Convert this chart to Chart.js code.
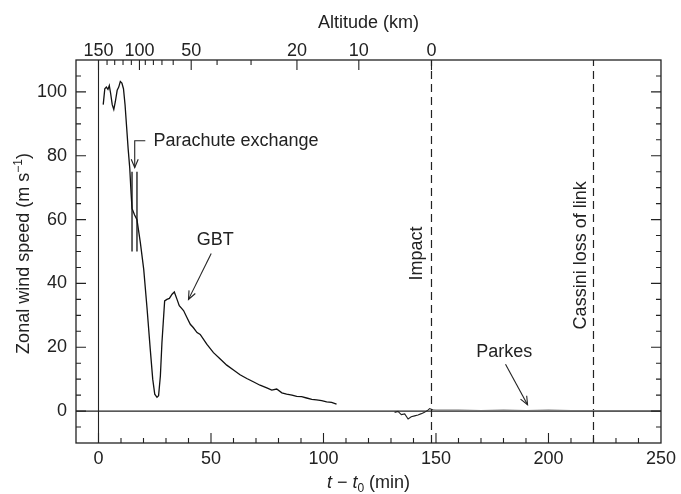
<!DOCTYPE html>
<html><head><meta charset="utf-8">
<script src="https://cdn.jsdelivr.net/npm/chart.js@4.4.1/dist/chart.umd.min.js"></script>
<style>html,body{margin:0;padding:0;background:#fff}#wrap{width:681px;height:494px;position:relative}</style>
</head><body><div id="wrap"><canvas id="c"></canvas></div>
<script>
// ---- data ----
const gbtTime  = [2.1,2.8,3.5,4.2,4.8,5.4,6.1,6.8,7.5,8.3,9.0,9.7,10.4,11.1,11.8,12.5,13.2,13.9,14.5,14.9,16.0,17.1,18.6,20.1,21.6,23.0,24.1,25.0,26.0,26.7,27.5,28.2,29.4,30.4,31.5,32.7,33.7,34.9,35.9,37.8,39.3,40.8,42.2,43.8,45.2,48.2,51.1,54.1,57.0,60.0,62.9,65.9,68.8,71.8,74.8,77.0,79.2,81.5,83.6,86.0,88.1,90.3,92.5,94.8,96.9,99.2,101.4,103.6,105.8];
const gbtSpeed = [96,101,101.5,100.8,102,99.5,96,94.5,97,100.5,101.5,103.3,102.8,101,96,89,82,76,68,63.5,61.5,60,52.8,44.4,32,19.4,10,5.3,4.3,4.8,11,21.5,34.5,35,35.3,36.6,37.3,35,33,31.5,29.3,27.2,26.1,24.6,24,20.9,18.3,16.3,14.4,12.9,11.4,10.2,9.2,8.1,7.3,6.6,6.9,5.7,5.3,5.0,4.6,4.5,4.1,3.7,3.5,3.3,2.9,2.7,2.2];
const parkesTime  = [131.6,133.1,134.6,136.1,137.6,139.0,140.5,142.0,143.5,144.9,146.4,147.2,147.9,148.6,150,160,170,180,190,200,210,220,230,240,250];
const parkesSpeed = [-0.4,-0.1,-1.1,-0.9,-2.5,-1.8,-1.5,-1.2,-0.8,-0.4,0.3,0.8,0.6,0.4,0.3,0.3,0.2,0.3,0.2,0.3,0.2,0.2,0.2,0.2,0.2];
const xTicks = [0,50,100,150,200,250];
const yTicks = [0,20,40,60,80,100];
const altitudeValues = [150,140,130,120,110,100,90,80,70,60,50,40,30,20,10,0];
const altitudeTimes  = [0,3.8,7.2,10.9,14.6,18.2,20.8,24.4,28.2,33.2,41.2,52.7,67.8,88.2,115.7,148];
const altitudeLabelled = [150,100,50,20,10,0];
const impactTime = 148;
const cassiniTime = 220;
const parachuteTimes = [14.9,17.1];
const parachuteRange = [50,75];
const xRange = [-10,250];
const yRange = [-10,110];

// ---- build ----
const xy = (xs, ys) => xs.map((x,i)=>({x, y: ys[i]}));
const vline = (t) => [{x:t,y:yRange[0]},{x:t,y:yRange[1]}];
const FONT = "'Liberation Sans', Arial, Helvetica, sans-serif";
const INK = '#222';

const datasets = [
  {data: xy(gbtTime,gbtSpeed), borderColor:'#111', borderWidth:1.3},
  {data: xy(parkesTime,parkesSpeed), borderColor:'#222', borderWidth:1.1,
   segment:{borderColor: c => c.p0.parsed.x >= impactTime ? '#777' : '#222'}},
  {data: [{x:xRange[0],y:0},{x:xRange[1],y:0}], borderColor:INK, borderWidth:1.1},
  {data: vline(0), borderColor:INK, borderWidth:1.1},
  {data: vline(impactTime), borderColor:INK, borderWidth:1.2, borderDash:[8,5]},
  {data: vline(cassiniTime), borderColor:INK, borderWidth:1.2, borderDash:[8,5]},
  ...parachuteTimes.map(t=>({data:[{x:t,y:parachuteRange[0]},{x:t,y:parachuteRange[1]}], borderColor:'#111', borderWidth:1.3}))
].map(d=>Object.assign({pointRadius:0, tension:0, fill:false, xAxisID:'x', yAxisID:'y'}, d));

const annotations = {
  parachuteText: {t:24.4, v:84.7, text:'Parachute exchange'},
  parachuteArrow: [[20.8,84.7],[16.1,84.7],[16.1,76.3]],
  gbtText: {t:51.9, v:53.7, text:'GBT'},
  gbtArrow: [[50.1,49.4],[40.0,35.0]],
  impactText: {t:144.0, v:40.9, text:'Impact'},
  cassiniText: {t:216.6, v:25.6, text:'Cassini loss of link'},
  parkesText: {t:180.3, v:18.4, text:'Parkes'},
  parkesArrow: [[180.9,14.7],[190.7,2.0]]
};

function arrow(ctx, pts){
  ctx.beginPath();
  ctx.moveTo(pts[0][0],pts[0][1]);
  for(let i=1;i<pts.length;i++) ctx.lineTo(pts[i][0],pts[i][1]);
  ctx.stroke();
  const [x1,y1]=pts[pts.length-2], [x2,y2]=pts[pts.length-1];
  const ang=Math.atan2(y2-y1,x2-x1), L=9, h=0.4;
  ctx.beginPath();
  ctx.moveTo(x2-L*Math.cos(ang-h), y2-L*Math.sin(ang-h));
  ctx.lineTo(x2,y2);
  ctx.lineTo(x2-L*Math.cos(ang+h), y2-L*Math.sin(ang+h));
  ctx.stroke();
}

const decor = {
  id:'decor',
  afterDatasetsDraw(chart){
    const ctx=chart.ctx, a=chart.chartArea, xs=chart.scales.x, ys=chart.scales.y;
    const P=(t,v)=>[xs.getPixelForValue(t), ys.getPixelForValue(v)];
    ctx.save();
    ctx.strokeStyle=INK; ctx.lineWidth=1.3;
    ctx.strokeRect(a.left,a.top,a.right-a.left,a.bottom-a.top);
    ctx.beginPath();
    ctx.lineWidth=1.1;
    for(let v=-5; v<=105; v+=5){
      const p=ys.getPixelForValue(v), L=(v%20===0)?10:5;
      ctx.moveTo(a.left,p); ctx.lineTo(a.left+L,p);
      ctx.moveTo(a.right,p); ctx.lineTo(a.right-L,p);
    }
    for(let v=0; v<250; v+=10){
      const p=xs.getPixelForValue(v), L=(v%50===0)?10:5;
      ctx.moveTo(p,a.bottom); ctx.lineTo(p,a.bottom-L);
    }
    altitudeTimes.forEach((t,i)=>{
      const p=xs.getPixelForValue(t), L=altitudeLabelled.includes(altitudeValues[i])?10:5;
      ctx.moveTo(p,a.top); ctx.lineTo(p,a.top+L);
    });
    ctx.stroke();

    ctx.fillStyle=INK;
    ctx.font='18px '+FONT;
    ctx.textAlign='center'; ctx.textBaseline='alphabetic';
    ctx.fillText('Altitude (km)', (a.left+a.right)/2, 28);
    {
      const parts=[['italic 18px '+FONT,'t',0],['18px '+FONT,' \u2212 ',0],['italic 18px '+FONT,'t',0],['12px '+FONT,'0',4],['18px '+FONT,' (min)',0]];
      let w=0; parts.forEach(p=>{ctx.font=p[0]; w+=ctx.measureText(p[1]).width;});
      let x=(a.left+a.right)/2-w/2; const y=488;
      ctx.textAlign='left';
      parts.forEach(p=>{ctx.font=p[0]; ctx.fillText(p[1],x,y+p[2]); x+=ctx.measureText(p[1]).width;});
    }
    {
      ctx.save();
      ctx.translate(29,(a.top+a.bottom)/2+2);
      ctx.rotate(-Math.PI/2);
      const parts=[['18px '+FONT,'Zonal wind speed (m s',0],['12px '+FONT,'\u22121',-7],['18px '+FONT,')',0]];
      let w=0; parts.forEach(p=>{ctx.font=p[0]; w+=ctx.measureText(p[1]).width;});
      let x=-w/2; ctx.textAlign='left';
      parts.forEach(p=>{ctx.font=p[0]; ctx.fillText(p[1],x,p[2]); x+=ctx.measureText(p[1]).width;});
      ctx.restore();
    }
    ctx.font='18px '+FONT;
    ctx.textBaseline='middle'; ctx.textAlign='left';
    let q=P(annotations.parachuteText.t, annotations.parachuteText.v);
    ctx.fillText(annotations.parachuteText.text, q[0], q[1]);
    ctx.textAlign='center';
    q=P(annotations.gbtText.t, annotations.gbtText.v);
    ctx.fillText(annotations.gbtText.text, q[0], q[1]);
    q=P(annotations.parkesText.t, annotations.parkesText.v);
    ctx.fillText(annotations.parkesText.text, q[0], q[1]);
    ctx.lineWidth=1.1; ctx.strokeStyle=INK;
    arrow(ctx, annotations.parachuteArrow.map(p=>P(p[0],p[1])));
    arrow(ctx, annotations.gbtArrow.map(p=>P(p[0],p[1])));
    arrow(ctx, annotations.parkesArrow.map(p=>P(p[0],p[1])));
    [annotations.impactText, annotations.cassiniText].forEach(o=>{
      const r=P(o.t,o.v);
      ctx.save(); ctx.translate(r[0],r[1]); ctx.rotate(-Math.PI/2);
      ctx.textAlign='left'; ctx.textBaseline='alphabetic';
      ctx.fillText(o.text,0,0); ctx.restore();
    });
    ctx.restore();
  }
};

new Chart(document.getElementById('c'), {
  type:'line',
  data:{datasets},
  options:{
    responsive:true, maintainAspectRatio:false, animation:false,
    layout:{padding:{left:0,right:19,top:0,bottom:0}},
    plugins:{legend:{display:false}, tooltip:{enabled:false}},
    scales:{
      x:{type:'linear', position:'bottom', min:xRange[0], max:xRange[1],
         grid:{display:false, drawTicks:false}, border:{display:false},
         afterBuildTicks:s=>{s.ticks=xTicks.map(v=>({value:v}));},
         afterFit:s=>{s.height=51;},
         ticks:{color:INK, padding:5, maxRotation:0, font:{family:FONT,size:18}, callback:v=>String(v)}},
      x2:{type:'linear', position:'top', min:xRange[0], max:xRange[1],
         grid:{display:false, drawTicks:false}, border:{display:false},
         afterBuildTicks:s=>{s.ticks=altitudeLabelled.map(h=>({value:altitudeTimes[altitudeValues.indexOf(h)]}));},
         afterFit:s=>{s.height=60;},
         ticks:{color:INK, padding:-2, maxRotation:0, autoSkip:false, font:{family:FONT,size:18},
                callback:(v,i)=>String(altitudeLabelled[i])}},
      y:{type:'linear', position:'left', min:yRange[0], max:yRange[1],
         grid:{display:false, drawTicks:false}, border:{display:false},
         afterBuildTicks:s=>{s.ticks=yTicks.map(v=>({value:v}));},
         afterFit:s=>{s.width=76;},
         ticks:{color:INK, padding:9, font:{family:FONT,size:18}, callback:v=>String(v)}}
    }
  },
  plugins:[decor]
});
</script></body></html>
